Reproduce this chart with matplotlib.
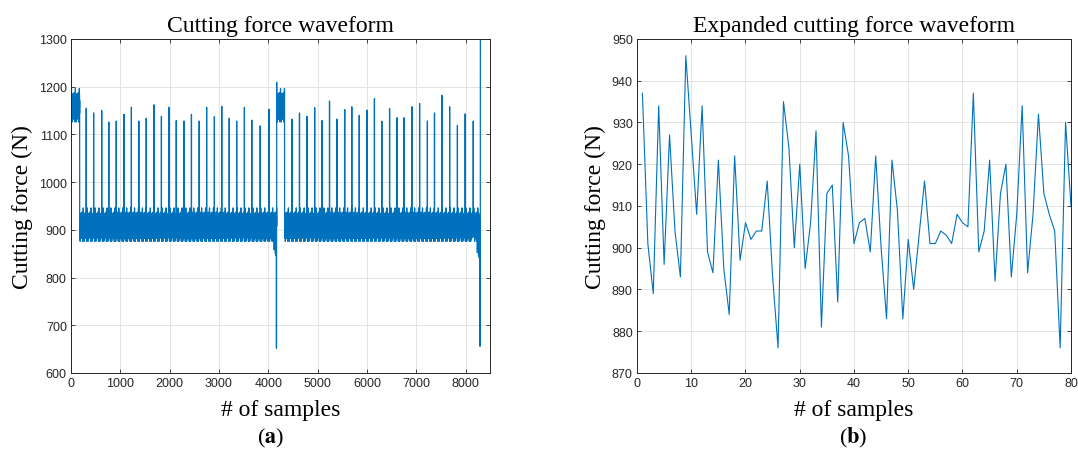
import matplotlib.pyplot as plt
import numpy as np

plt.rcParams['font.family'] = ['Liberation Sans', 'DejaVu Sans']
plt.rcParams['mathtext.fontset'] = 'stix'

# (b) expanded waveform, samples 1..80
zoom_x = np.arange(1, 81)
zoom_force = [937, 901, 889, 934, 896, 927, 904, 893, 946, 927,
              908, 934, 899, 894, 921, 895, 884, 922, 897, 906,
              902, 904, 904, 916, 893, 876, 935, 924, 900, 920,
              895, 906, 928, 881, 913, 915, 887, 930, 922, 901,
              906, 907, 899, 922, 900, 883, 921, 909, 883, 902,
              890, 903, 916, 901, 901, 904, 903, 901, 908, 906,
              905, 937, 899, 904, 921, 892, 913, 920, 893, 908,
              934, 894, 908, 932, 913, 908, 904, 876, 930, 910]

# (a) full waveform: baseline texture is the read 80-sample segment repeated
n_samples = 8302
start_values = [560, 1320, 1290, 1260, 1235, 1215]   # samples 0..5
high_blocks = [(6, 175), (4172, 4330)]               # tool-engaged segments
block_offset = 250
spike_pos = [308, 458, 622, 766, 917, 1074, 1224, 1375, 1525, 1683,
             1833, 1984, 2134, 2291, 2442, 2599, 2750, 2907, 3057, 3208,
             3359, 3516, 3666, 3836, 4013,
             4483, 4633, 4784, 4941, 5092, 5242, 5393, 5550, 5694, 5845,
             6002, 6153, 6303, 6460, 6611, 6755, 6912, 7069, 7227, 7371,
             7521, 7678, 7836, 7993, 8157]
spike_val = [1155, 1145, 1150, 1126, 1128, 1142, 1157, 1128, 1134, 1162,
             1138, 1157, 1129, 1128, 1142, 1128, 1157, 1137, 1159, 1134,
             1128, 1157, 1130, 1118, 1153,
             1132, 1145, 1138, 1156, 1129, 1170, 1132, 1152, 1158, 1140,
             1151, 1175, 1128, 1154, 1135, 1135, 1158, 1165, 1128, 1145,
             1182, 1158, 1119, 1143, 1128]
dip_pos = [176, 4120, 4145, 4158, 4166, 4171, 8240, 8265, 8282, 8292, 8301]
dip_val = [1080, 858, 850, 846, 652, 1209, 852, 845, 840, 656, 1330]

force = np.resize(np.array(zoom_force, dtype=float), n_samples)
for a, b in high_blocks:
    force[a:b] += block_offset
force[:len(start_values)] = start_values
force[spike_pos] = spike_val
force[dip_pos] = dip_val
samples = np.arange(n_samples)

blue = '#0072BD'
serif = 'Liberation Serif'
fig = plt.figure(figsize=(10.78, 4.64), dpi=100)
ax1 = fig.add_axes([0.0659, 0.194, 0.3888, 0.7198])
ax2 = fig.add_axes([0.5909, 0.194, 0.4026, 0.7198])

ax1.plot(samples, force, color=blue, lw=0.9)
ax1.set_xlim(0, 8500)
ax1.set_ylim(600, 1300)
ax1.set_xticks(np.arange(0, 8001, 1000))
ax1.set_yticks(np.arange(600, 1301, 100))
ax1.set_title('Cutting force waveform', family=serif, fontsize=17, pad=6)

ax2.plot(zoom_x, zoom_force, color=blue, lw=0.8)
ax2.set_xlim(0, 80)
ax2.set_ylim(870, 950)
ax2.set_xticks(np.arange(0, 81, 10))
ax2.set_yticks(np.arange(870, 951, 10))
ax2.set_title('Expanded cutting force waveform', family=serif, fontsize=17, pad=6)

for ax in (ax1, ax2):
    ax.grid(True, color='#e3e3e3', lw=0.7)
    ax.set_axisbelow(True)
    ax.tick_params(direction='in', top=True, right=True, length=3, width=0.6,
                   colors='#262626', labelsize=9, pad=3)
    for s in ax.spines.values():
        s.set_linewidth(0.7)
        s.set_color('#262626')
    ax.set_xlabel('# of samples', family=serif, fontsize=17, labelpad=7)
    ax.set_ylabel('Cutting force (N)', family=serif, fontsize=17, labelpad=4)

fig.text(0.2505, 0.055, r'($\mathbf{a}$)', family=serif, fontsize=16,
         ha='center', va='center')
fig.text(0.7912, 0.055, r'($\mathbf{b}$)', family=serif, fontsize=16,
         ha='center', va='center')

fig.savefig('out.png', dpi=100)
